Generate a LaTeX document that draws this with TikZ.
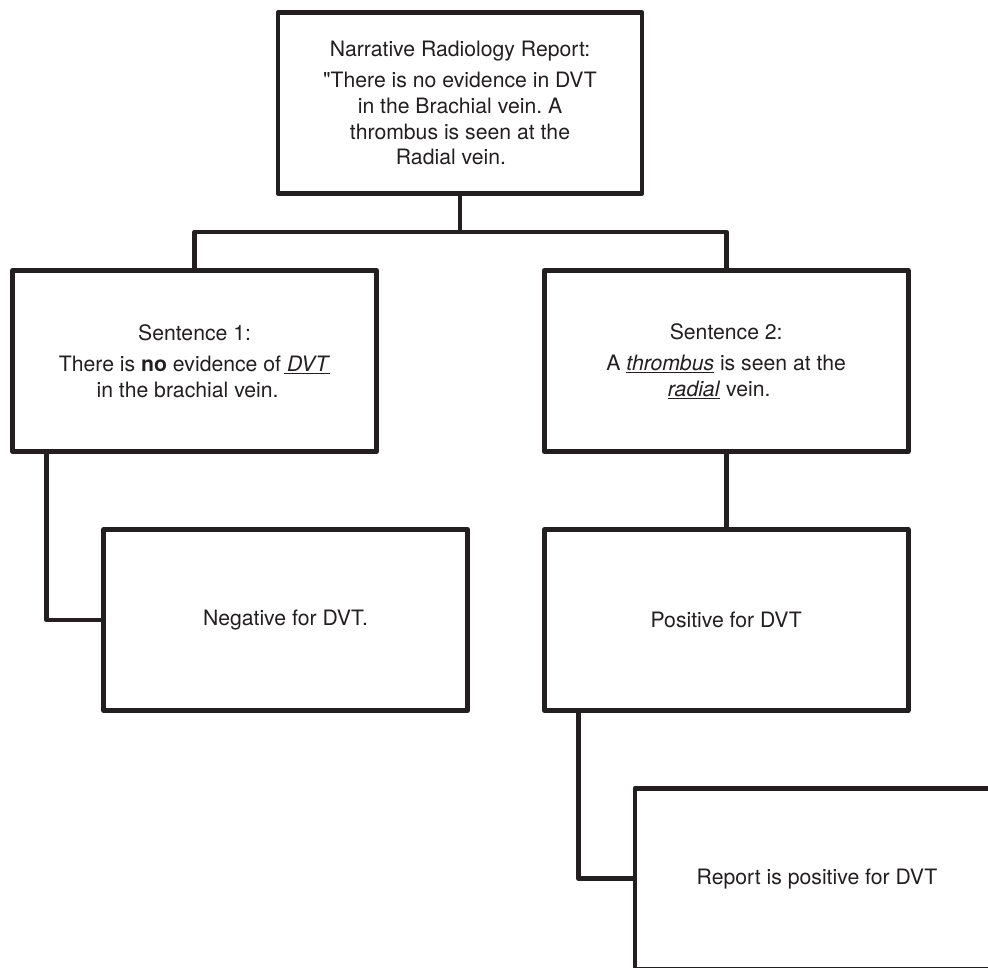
\documentclass[tikz,border=0pt]{standalone}
\usepackage{fontspec}
\setmainfont[Ligatures=TeXOff]{TeX Gyre Heros}
\definecolor{ink}{HTML}{231F20}
\frenchspacing
\begin{document}
\begin{tikzpicture}[x=1pt,y=-1pt,
  box/.style={draw=ink, line width=4.8pt, line join=round, minimum width=364pt,
    minimum height=181pt, inner sep=0pt, align=center, text=ink,
    font=\fontsize{21.2}{25.7}\selectfont\frenchspacing},
  link/.style={draw=ink, line width=4.8pt, line join=round}]
\useasboundingbox (0,0) rectangle (988,968);
\clip (0,0) rectangle (988,968);
\fill[white] (0,0) rectangle (988,968);

\node[box] (top) at (460,103) {Narrative Radiology Report:\\[5.6pt]
  "There is no evidence in DVT\\ in the Brachial vein. A\\ thrombus is seen at the\\ Radial vein.\hspace*{18pt}};
\node[box] (s1) at (194.6,361) {Sentence 1:\\[5.6pt]
  There is \textbf{no} evidence of\hspace{3pt}\underline{\hspace{3pt}\textit{DVT}}\\ in the brachial vein.\hspace*{14pt}};
\node[box] (s2) at (726.2,361) {Sentence 2:\\[5.6pt]
  A \underline{\textit{thrombus}} is seen at the\\ \underline{\textit{radial}} vein.\hspace*{14pt}};
\node[box] (neg) at (285.5,620) {Negative for DVT.};
\node[box] (pos) at (726.2,620) {Positive for DVT};
\node[box] (rep) at (817,878.7) {Report is positive for DVT};

\coordinate (j) at (460,232);
\draw[link] (top.south) -- (j);
\draw[link] (s1.north) |- (j) -| (s2.north);
\draw[link] ([xshift=36.5pt]s1.south west) |- (neg.west);
\draw[link] (s2.south) -- (pos.north);
\draw[link] ([xshift=36.8pt]pos.south west) |- (rep.west);
\end{tikzpicture}
\end{document}
